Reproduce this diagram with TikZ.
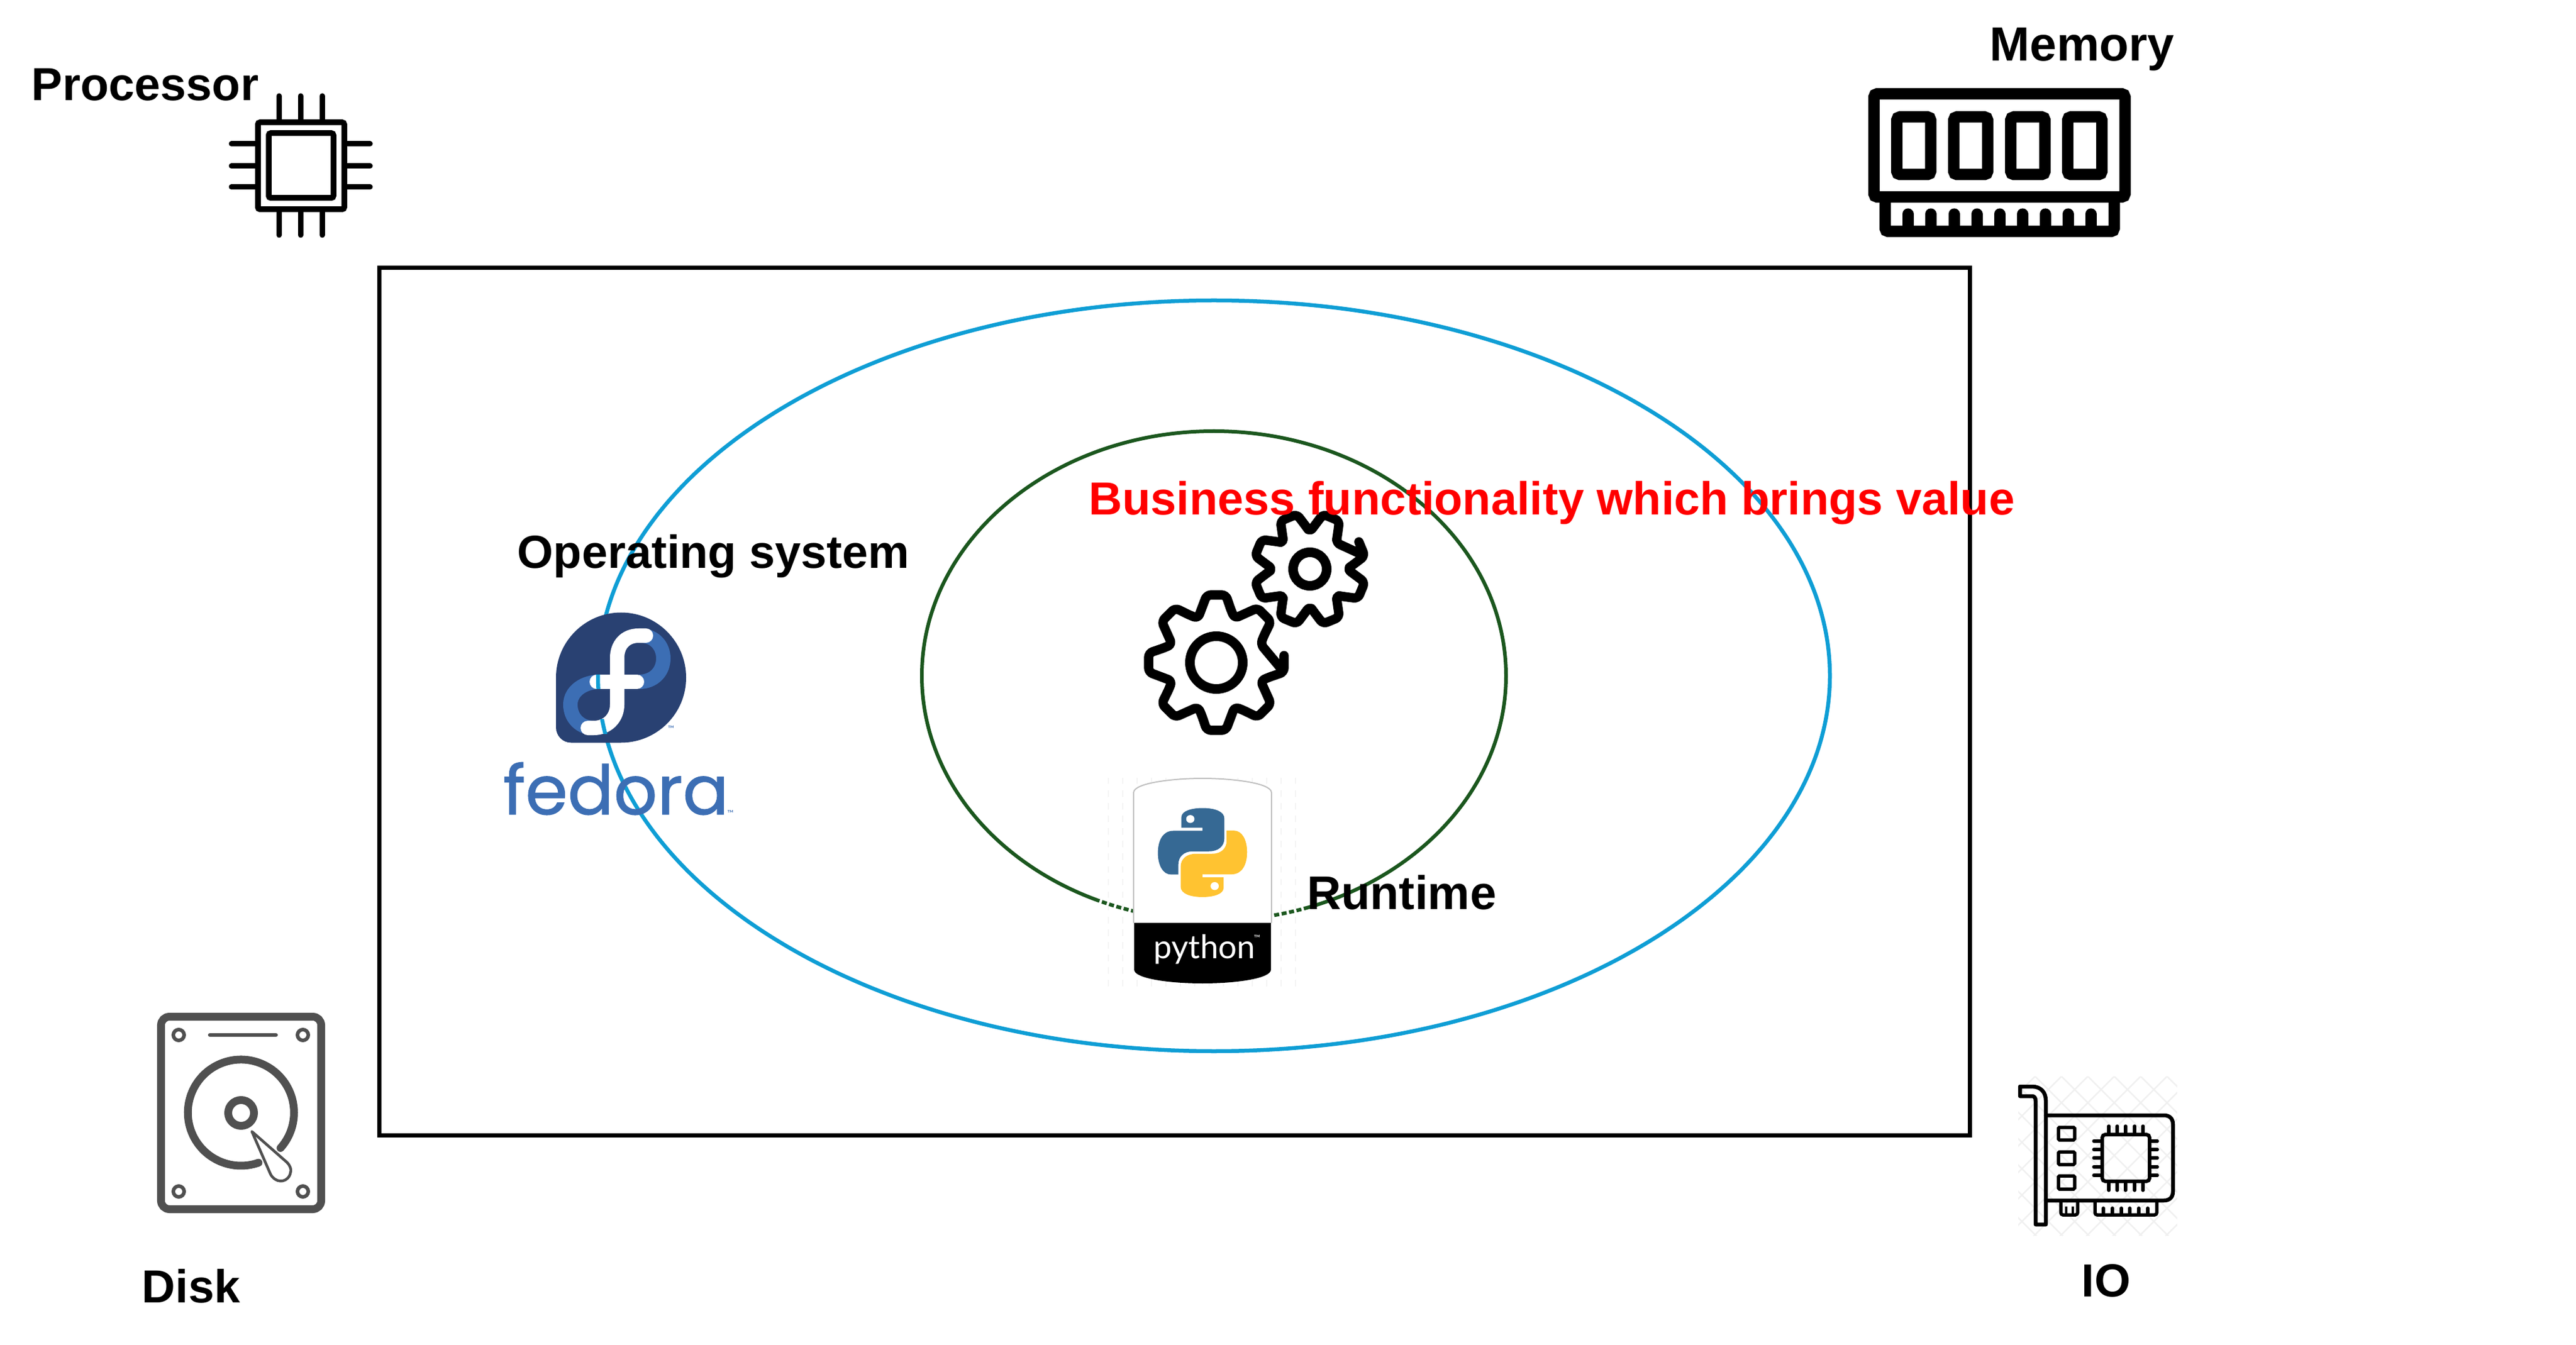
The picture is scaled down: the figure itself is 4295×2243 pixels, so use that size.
\documentclass[tikz,border=0pt]{standalone}
\usepackage{fontspec}
\setmainfont{Liberation Sans}
\newfontfamily\fedorafont[FakeBold=1]{Poppins}
\newfontfamily\pythonfont{Lato}
\definecolor{osblue}{HTML}{0F9ED5}
\definecolor{rtgreen}{HTML}{1B571E}
\definecolor{fedoradark}{HTML}{294172}
\definecolor{fedorablue}{HTML}{3C6EB4}
\definecolor{pyblue}{HTML}{366994}
\definecolor{pyyellow}{HTML}{FFC331}
\definecolor{diskgrey}{HTML}{505050}
\definecolor{hatchgrey}{HTML}{F0F0F0}
\definecolor{gridgrey}{HTML}{F4F4F4}
\def\pw{0.2845pt}
\tikzset{
  lbl/.style={inner sep=0pt,anchor=base west,font=\fontsize{22}{26}\selectfont\bfseries},
  tmark/.style={inner sep=0pt,font=\fontsize{4}{5}\selectfont\pythonfont},
  cpuline/.style={line width=9.5*\pw,rounded corners=1pt},
  cpupin/.style={line width=9*\pw,line cap=round},
  ramline/.style={line width=19*\pw,rounded corners=1.5pt},
  hddline/.style={diskgrey,line width=13*\pw,line cap=round},
  hddscrew/.style={diskgrey,line width=6*\pw},
  nicline/.style={line width=6.5*\pw,line cap=round,line join=round},
  nicpin/.style={line width=5.5*\pw,line cap=round},
  gearline/.style={line width=15.5*\pw,rounded corners=2pt,line join=round},
  hatchline/.style={hatchgrey,line width=2.5*\pw},
  fedoraline/.style={line width=24*\pw,line cap=round},
  osring/.style={osblue,line width=6.5*\pw},
  rtring/.style={rtgreen,line width=6*\pw}
}
% one gear round the origin: tip radius, shoulder radius, valley radius, half tooth angle
\newcommand{\gearoutline}[4]{
  (0+#4:#1) foreach \a in {0,45,...,315} {
    -- (\a-#4:#1) -- (\a+#4:#1) -- (\a+#4+8:#2) -- (\a+22.5:#3)
  } -- cycle
}

\begin{document}
\begin{tikzpicture}[x=0.01cm,y=-0.01cm]
\useasboundingbox (0,0) rectangle (4295,2243);
\fill[white] (0,0) rectangle (4295,2243);

\draw[line width=7*\pw] (632,447) rectangle (3284,1893);
\draw[osring] (2024,1127) ellipse [x radius=1027,y radius=626];
\draw[rtring] (2024,1127) ellipse [x radius=487,y radius=408];

% processor
\draw[cpuline] (430,204) rectangle (574,349);
\draw[cpuline] (448,222) rectangle (556,330);
\foreach \x in {465,501,537} {
  \draw[cpupin] (\x,160) -- (\x,200);
  \draw[cpupin] (\x,353) -- (\x,392);
}
\foreach \y in {240,277,312} {
  \draw[cpupin] (386,\y) -- (426,\y);
  \draw[cpupin] (578,\y) -- (617,\y);
}
\node[lbl] (processor) at (52,168) {Processor};

% memory
\draw[ramline] (3124.5,156.5) rectangle (3543,328.5);
\draw[ramline] (3162.5,195) rectangle (3219,291);
\draw[ramline] (3257.5,195) rectangle (3314,291);
\draw[ramline] (3352.5,195) rectangle (3409.5,291);
\draw[ramline] (3447.5,195) rectangle (3504.5,291);
\draw[ramline] (3143,335) -- (3143,386) -- (3525,386) -- (3525,335);
\foreach \x in {3181,3219,3258,3296,3334,3372,3410,3448,3486} {
  \draw[line width=19*\pw,line cap=round] (\x,357) -- (\x,380);
}
\node[lbl,font=\fontsize{22.8}{26}\selectfont\bfseries] (memory) at (3317,102) {Memory};

% disk
\draw[diskgrey,line width=13*\pw,rounded corners=4pt] (268.5,1695.5) rectangle (535.5,2016.5);
\draw[hddscrew] (298,1726) circle [radius=9];
\draw[hddscrew] (505,1726) circle [radius=9];
\draw[hddscrew] (298,1987) circle [radius=9];
\draw[hddscrew] (505,1987) circle [radius=9];
\draw[diskgrey,line width=6.5*\pw,line cap=round] (350,1726) -- (460,1726);
\draw[hddline] (431,1939) arc [start angle=70.7,end angle=401.8,radius=88.5];
\draw[diskgrey,line width=13*\pw] (402,1856) circle [radius=21.5];
\draw[diskgrey,fill=white,line width=4.5*\pw,line join=round] (420,1887) -- (451,1958) .. controls (458,1972) and (476,1974) .. (483,1960) .. controls (487,1950) and (484,1944) .. (478,1938) -- cycle;
\node[lbl] (disk) at (236,2172) {Disk};

% io
\begin{scope}
\clip (3365,1795) rectangle (3630,2060);
\foreach \k in {0,44,...,572} {
  \draw[hatchline] ({3357+\k},1787) -- ({3357+\k-280},2067);
  \draw[hatchline] ({3357+\k-280},1787) -- ({3357+\k},2067);
}
\end{scope}
\draw[nicline] (3368,1812) -- (3388,1812) .. controls (3403,1812) and (3411,1822) .. (3411,1835) -- (3411,2042) -- (3394,2042) -- (3394,1836) .. controls (3394,1831) and (3392,1828) .. (3388,1828) -- (3368,1828) -- cycle;
\draw[nicline] (3411,1860) -- (3608,1860) .. controls (3618,1860) and (3623,1866) .. (3623,1875) -- (3623,1987) .. controls (3623,1996) and (3618,2002) .. (3608,2002) -- (3411,2002);
\draw[nicpin,rounded corners=0.5pt] (3432,1880) rectangle (3459,1901);
\draw[nicpin,rounded corners=0.5pt] (3432,1921) rectangle (3459,1942);
\draw[nicpin,rounded corners=0.5pt] (3432,1961) rectangle (3459,1983);
\draw[line width=6*\pw,rounded corners=1.5pt] (3505,1892) rectangle (3584,1970);
\foreach \x in {3516,3530,3544,3559,3573} {
  \draw[nicpin] (\x,1878) -- (\x,1889);
  \draw[nicpin] (\x,1973) -- (\x,1985);
}
\foreach \y in {1903,1917,1931,1946,1960} {
  \draw[nicpin] (3491,\y) -- (3502,\y);
  \draw[nicpin] (3587,\y) -- (3597,\y);
}
\draw[nicpin,rounded corners=1pt] (3436,2002) -- (3436,2026) -- (3464,2026) -- (3464,2002);
\draw[nicpin,rounded corners=1pt] (3493,2002) -- (3493,2026) -- (3596,2026) -- (3596,2002);
\draw[line width=3.5*\pw] (3445,2012) -- (3445,2026);
\draw[line width=3.5*\pw] (3456,2012) -- (3456,2026);
\foreach \x in {3507,3522,3537,3551,3566,3581} {
  \draw[line width=6*\pw,line cap=round] (\x,2015) -- (\x,2026);
}
\node[lbl] (io) at (3470,2162) {IO};

% fedora
\fill[fedoradark] (927,1130) arc [start angle=180,end angle=450,radius=108.5] -- (952,1238.5) .. controls (938,1238.5) and (927,1227) .. (927,1213) -- cycle;
\draw[fedorablue,fedoraline,line cap=butt] (1068,1060) .. controls (1092,1060) and (1106,1078) .. (1106,1098) .. controls (1106,1120) and (1090,1137) .. (1066,1137);
\draw[fedorablue,fedoraline,line cap=butt] (1000,1137) .. controls (974,1137) and (951,1152) .. (951,1175) .. controls (951,1198) and (968,1214) .. (990,1214);
\draw[white,fedoraline] (1077,1060) -- (1065,1060) .. controls (1042,1060) and (1029,1076) .. (1029,1097) -- (1029,1175) .. controls (1029,1198) and (1012,1214) .. (990,1214) -- (980,1214);
\draw[white,fedoraline] (995,1137) -- (1062,1137);
\begin{scope}  % ellipse shows through the white of the f
\clip (990,1125) rectangle (1015,1149) (995,1199) rectangle (1020,1224);
\draw[osring] (2024,1127) ellipse [x radius=1027,y radius=626];
\end{scope}
\node[tmark,text=fedorablue] (tmlogo) at (1119,1215) {™};
\node[inner sep=0pt,anchor=base west,text=fedorablue,font=\fontsize{32.3}{36}\selectfont\fedorafont] (fedora) at (838,1358) {fedora};
\node[tmark,text=fedorablue] (tmword) at (1218,1356) {™};
\node[lbl] (os) at (862,948) {Operating system};

% gears
\begin{scope}[shift={(2028,1105)}]
\draw[gearline] \gearoutline{114}{90}{80}{8};
\draw[line width=16*\pw] (0,0) circle [radius=44];
\end{scope}
\begin{scope}[shift={(2184,949)}]
\draw[gearline,rotate=22.5] \gearoutline{94}{72}{62}{9};
\draw[line width=16*\pw] (0,0) circle [radius=28];
\end{scope}
\node[lbl,text=red] (value) at (1815,859) {Business functionality which brings value};

% python
\fill[white] (1832,1297) rectangle (2175,1645);
\draw[gridgrey,line width=2*\pw,dashed] (1834,1297) grid [step=24] (2174,1645);
\begin{scope}  % remains of the ellipse round the badge
\clip (1832,1400) rectangle (1889,1600) (2122,1400) rectangle (2176,1600);
\draw[rtring,dash pattern=on 2.4pt off 1.2pt] (2024,1127) ellipse [x radius=487,y radius=408];
\end{scope}
\draw[fill=white,draw=black!25,line width=2*\pw] (1890,1539) -- (1890,1322) .. controls (1890,1305) and (1960,1298) .. (2005,1298) .. controls (2050,1298) and (2120,1305) .. (2120,1322) -- (2120,1539);
\fill[black] (1891,1539) -- (2119,1539) -- (2119,1617) .. controls (2119,1632) and (2060,1640) .. (2005,1640) .. controls (1950,1640) and (1891,1632) .. (1891,1617) -- cycle;
\begin{scope}[shift={(1780,1270)},x=0.003827cm,y=-0.003333cm]
\fill[pyblue] (495,332) -- (495,280) .. controls (495,245) and (545,233) .. (587,233) .. controls (640,233) and (682,250) .. (682,285) -- (682,385) .. controls (682,425) and (655,450) .. (615,450) -- (545,450) .. controls (505,450) and (482,478) .. (482,515) -- (482,566) -- (450,566) .. controls (415,566) and (393,520) .. (393,458) .. controls (393,395) and (415,347) .. (460,347) -- (587,347) -- (587,332) -- cycle;
\fill[pyyellow] (679,580) -- (679,632) .. controls (679,667) and (629,679) .. (587,679) .. controls (534,679) and (492,662) .. (492,627) -- (492,527) .. controls (492,487) and (519,462) .. (559,462) -- (629,462) .. controls (669,462) and (692,434) .. (692,397) -- (692,346) -- (724,346) .. controls (759,346) and (781,392) .. (781,454) .. controls (781,517) and (759,565) .. (714,565) -- (587,565) -- (587,580) -- cycle;
\fill[white] (534,288) ellipse [x radius=18,y radius=20];
\fill[white] (640,624) ellipse [x radius=18,y radius=20];
\end{scope}
\node[inner sep=0pt,anchor=base west,text=white,font=\fontsize{15.5}{18}\selectfont\pythonfont] (pytext) at (1923,1598) {python};
\node[tmark,text=white] (tmpy) at (2096,1564) {™};
\node[lbl,font=\fontsize{22.4}{26}\selectfont\bfseries] (runtime) at (2179,1516) {Runtime};
\end{tikzpicture}
\end{document}
